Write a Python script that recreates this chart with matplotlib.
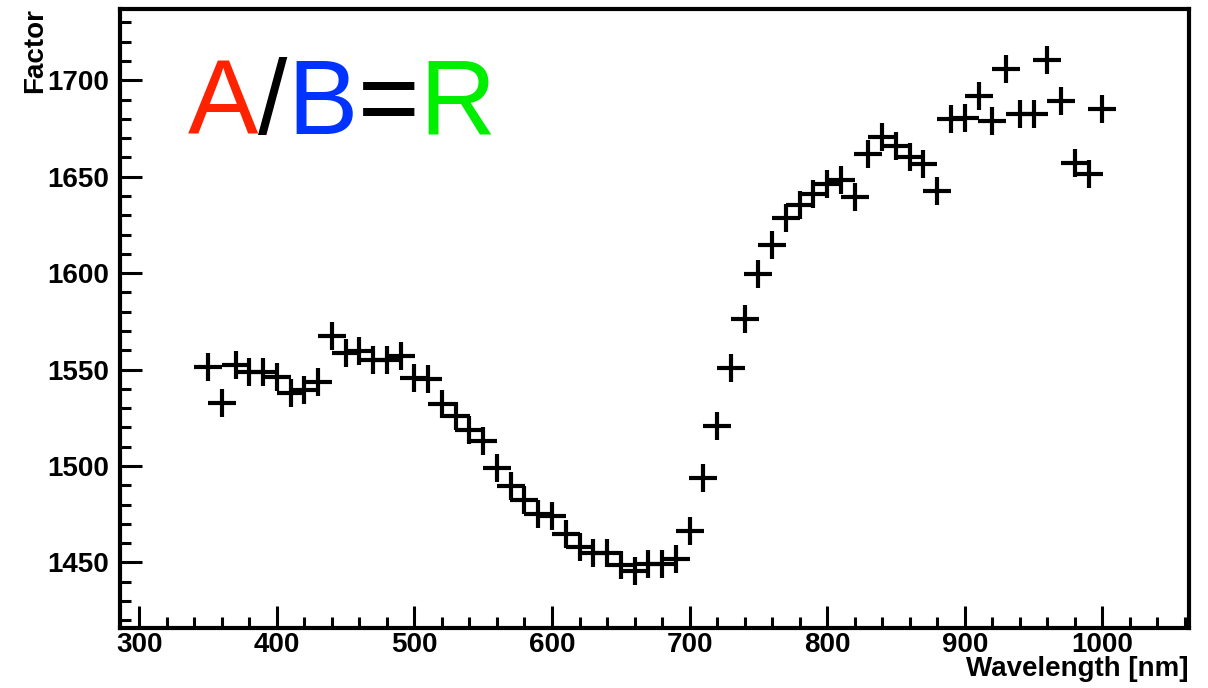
import numpy as np
import matplotlib
matplotlib.use('Agg')
import matplotlib.pyplot as plt
from matplotlib.ticker import MultipleLocator

# ── DATA ─────────────────────────────────────────────────────
wavelength = [350, 360, 370, 380, 390, 400, 410, 420, 430, 440,
              450, 460, 470, 480, 490, 500, 510, 520, 530, 540,
              550, 560, 570, 580, 590, 600, 610, 620, 630, 640,
              650, 660, 670, 680, 690, 700, 710, 720, 730, 740,
              750, 760, 770, 780, 790, 800, 810, 820, 830, 840,
              850, 860, 870, 880, 890, 900, 910, 920, 930, 940,
              950, 960, 970, 980, 990, 1000]
factor = [1551.6, 1532.6, 1552.5, 1549.0, 1548.5, 1546.4, 1537.8, 1539.5, 1543.8, 1567.5,
          1558.5, 1559.4, 1555.0, 1555.0, 1557.3, 1545.6, 1545.2, 1532.1, 1525.8, 1518.8,
          1513.1, 1499.0, 1489.5, 1482.6, 1475.2, 1474.0, 1464.5, 1458.0, 1454.7, 1454.7,
          1448.6, 1445.5, 1449.0, 1449.0, 1451.7, 1466.2, 1493.8, 1520.6, 1550.8, 1576.1,
          1599.6, 1614.6, 1628.4, 1635.3, 1641.3, 1646.5, 1648.2, 1639.6, 1661.7, 1670.7,
          1665.8, 1660.3, 1656.5, 1642.7, 1679.8, 1680.7, 1691.7, 1679.0, 1706.0, 1682.8,
          1682.8, 1710.4, 1689.3, 1657.0, 1651.3, 1685.3]

title_parts  = ['A', '/', 'B', '=', 'R']
title_colors = ['#ff2200', 'black', '#0033ff', 'black', '#00ee00']

FONT = 'Liberation Sans'
W, H = 1208, 688

# ── FIGURE ───────────────────────────────────────────────────
fig = plt.figure(figsize=(W / 100, H / 100), dpi=100)
ax = fig.add_axes([120/W, 60/H, 1069/W, 619/H])

ax.plot(wavelength, factor, linestyle='none', marker='+',
        markersize=19.5, markeredgewidth=3.0, color='black')

ax.set_xlim(286, 1063)
ax.set_ylim(1416, 1737)

ax.xaxis.set_major_locator(MultipleLocator(100))
ax.xaxis.set_minor_locator(MultipleLocator(20))
ax.yaxis.set_major_locator(MultipleLocator(50))
ax.yaxis.set_minor_locator(MultipleLocator(10))

ax.tick_params(which='both', direction='in', top=False, right=False,
               width=2.2, color='black')
ax.tick_params(which='major', length=16)
ax.tick_params(which='minor', length=8)
ax.tick_params(axis='x', pad=3)
ax.tick_params(axis='y', pad=8)
for lab in ax.get_xticklabels() + ax.get_yticklabels():
    lab.set_fontfamily(FONT)
    lab.set_fontweight('bold')
    lab.set_fontsize(20)

for spine in ax.spines.values():
    spine.set_linewidth(3.0)

# axis titles sit at the ends of the axes, ROOT style
fig.text(1189/W, 1 - 676/H, 'Wavelength [nm]', fontfamily=FONT,
         fontweight='bold', fontsize=20, ha='right', va='baseline')
fig.text(35/W, 1 - 8/H, 'Factor', fontfamily=FONT, fontweight='bold',
         fontsize=20, rotation=90, ha='center', va='top')

# ── COLOURED TITLE TEXT ──────────────────────────────────────
prev = ax.text(188/W, 1 - 134/H, title_parts[0], transform=fig.transFigure,
               fontfamily=FONT, fontsize=76, color=title_colors[0],
               va='baseline', ha='left')
for part, col in zip(title_parts[1:], title_colors[1:]):
    prev = ax.annotate(part, xy=(1, 0), xycoords=prev, va='bottom', ha='left',
                       fontfamily=FONT, fontsize=76, color=col)

fig.savefig('out.png', dpi=100, facecolor='white')
